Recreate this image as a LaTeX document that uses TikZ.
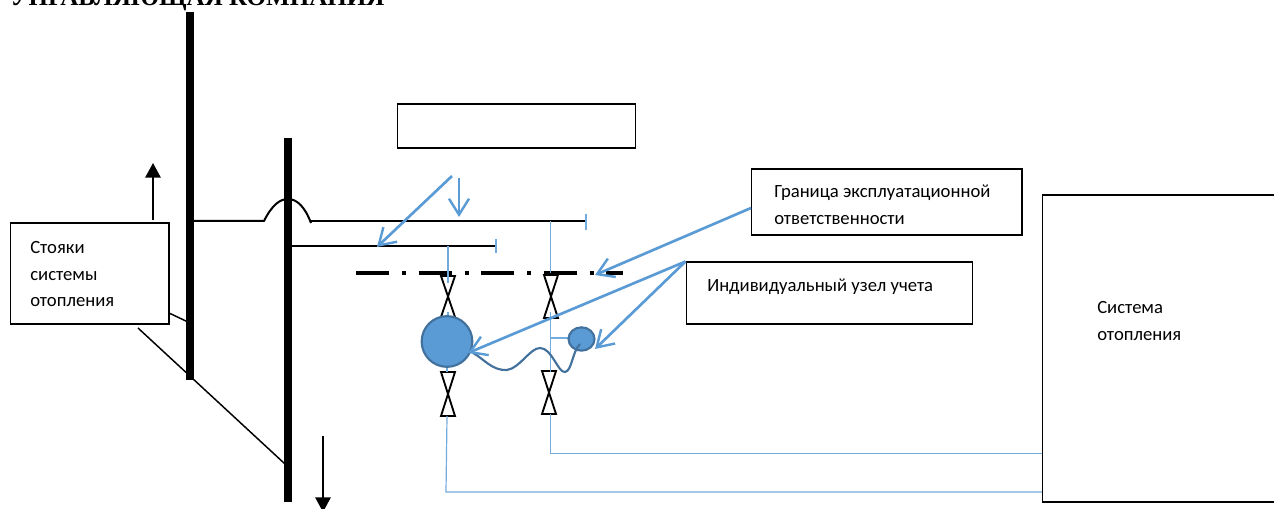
\documentclass[tikz,border=0pt]{standalone}
\usepackage{fontspec}
\setmainfont{Liberation Serif}
\newfontfamily\lblfont{Carlito}
\usetikzlibrary{arrows.meta,shapes.geometric}
\definecolor{lblue}{HTML}{5B9BD5}
\definecolor{dblue}{HTML}{41719C}
\definecolor{pale}{HTML}{74ABDD}
\tikzset{
 box/.style={draw=black,line width=1.4pt,fill=white,inner sep=0pt,anchor=north west},
 lbl/.style={font=\lblfont\fontsize{14}{20}\selectfont,align=left,anchor=north west,inner sep=0pt},
 riser/.style={line width=6pt,black},
 pipe/.style={line width=1.5pt,black},
 leader/.style={line width=1.1pt,black},
 feed/.style={line width=0.9pt,pale},
 call/.style={line width=2pt,lblue,-{Straight Barb[length=12pt,width=15pt,line width=1.8pt]}},
 valve/.style={draw=black,line width=1.4pt,fill=white},
 bigarrow/.style={line width=1.5pt,black,-{Triangle[length=11pt,width=11.5pt]}},
}
\begin{document}
\begin{tikzpicture}[x=0.75pt,y=-0.75pt]
\useasboundingbox (0,0) rectangle (1274,509);
\begin{scope}
\clip (0,0) rectangle (1274,509);
\node[anchor=base west,inner sep=0pt,font=\bfseries\fontsize{18.8}{19}\selectfont] (title) at (10,6) {УПРАВЛЯЮЩАЯ КОМПАНИЯ};
\end{scope}
% risers
\coordinate (r1t) at (190,12); \coordinate (r1b) at (190,380);
\coordinate (r2t) at (288,138); \coordinate (r2b) at (288,502);
\draw[riser] (r1t) -- (r1b);
\draw[riser] (r2t) -- (r2b);
% hot pipes
\coordinate (p1) at (193,221); \coordinate (p2) at (264,221); \coordinate (p3) at (311,221); \coordinate (p4) at (585,221);
\draw[pipe] (p1) -- (p2) .. controls (272,205) and (280,199) .. (288,199) .. controls (297,199) and (305,207) .. (311,223);
\draw[pipe] (p3) -- (p4);
\coordinate (q1) at (291,246); \coordinate (q2) at (496,246);
\draw[pipe] (q1) -- (q2);
\draw[feed] (586,214) -- (586,230);
\draw[feed] (496,239) -- (496,253);
% dash-dot boundary
\draw[line width=3pt,black,dash pattern=on 25pt off 9.5pt on 3pt off 9.4pt] (356,273.5) -- (623,273.5);
% valves
\foreach \n/\x/\yy/\h in {a/448/276/41,b/551/275/43,c/448/372/44,d/549/371/43}{
  \draw[valve] (\x-7,\yy) -- (\x+7,\yy) -- (\x-7,\yy+\h) -- (\x+7,\yy+\h) -- cycle;
}
% blue feeds
\draw[feed] (448,246) -- (448,283);
\draw[feed] (550.4,221) -- (550.4,273);
\draw[feed] (550.4,312) -- (550.4,372);
\draw[feed] (550.4,338) -- (569,338);
\draw[feed] (550.4,414) -- (550.4,453.4) -- (1042,453.4);
\draw[feed] (447,416) -- (446,492) -- (1042,492);
\draw[feed] (448,312) -- (448,318);
\draw[feed] (447,366) -- (447,372);
% meter
\node[circle,draw=dblue,line width=1.6pt,fill=lblue,minimum size=38pt,inner sep=0pt] (meter) at (447,341.5) {};
\node[ellipse,draw=dblue,line width=1.6pt,fill=lblue,minimum width=19.5pt,minimum height=17.5pt,inner sep=0pt] (sensor) at (581.5,339) {};
\draw[line width=1.6pt,dblue] (473,353) .. controls (483,358) and (492,371) .. (507,370) .. controls (520,368) and (530,348) .. (540,348) .. controls (552,348) and (558,373) .. (565,372) .. controls (572,371) and (572,352) .. (580,344);
% text boxes
\node[box,minimum width=178.5pt,minimum height=32.5pt] (top) at (396.5,103.5) {};
\node[box,minimum width=203pt,minimum height=49.5pt] (gran) at (750.5,168.5) {};
\node[lbl] at (774,185) {Граница эксплуатационной\\ответственности};
\node[box,minimum width=214.5pt,minimum height=46.5pt] (uzel) at (685.5,261.5) {};
\node[lbl] at (707,279) {Индивидуальный узел учета};
\node[box,minimum width=180pt,minimum height=230pt] (sys) at (1041.5,194.5) {};
\node[lbl] at (1097,301) {Система\\отопления};
\node[box,minimum width=119pt,minimum height=75.5pt] (st) at (9.5,222.5) {};
\node[lbl] at (30,241) {Стояки\\системы\\отопления};
% leaders
\draw[leader] (169,313) -- (188,322);
\draw[leader] (138,328) -- (285,464);
% flow arrows
\coordinate (u1) at (153,220); \coordinate (u2) at (153,163);
\draw[bigarrow] (u1) -- (u2);
\coordinate (d1) at (323,436); \coordinate (d2) at (323,512);
\draw[bigarrow] (d1) -- (d2);
% callouts
\coordinate (c1) at (452,176); \coordinate (c1e) at (377,247);
\coordinate (c2) at (459,178); \coordinate (c2e) at (459,217);
\draw[call] (c1) -- (c1e);
\draw[call] (c2) -- (c2e);
\coordinate (g1) at (751,208); \coordinate (g2) at (595,275);
\draw[call] (g1) -- (g2);
\draw[call] (uzel.north west) -- (468,353);
\draw[call] (uzel.north west) -- (595,349);
\end{tikzpicture}
\end{document}
